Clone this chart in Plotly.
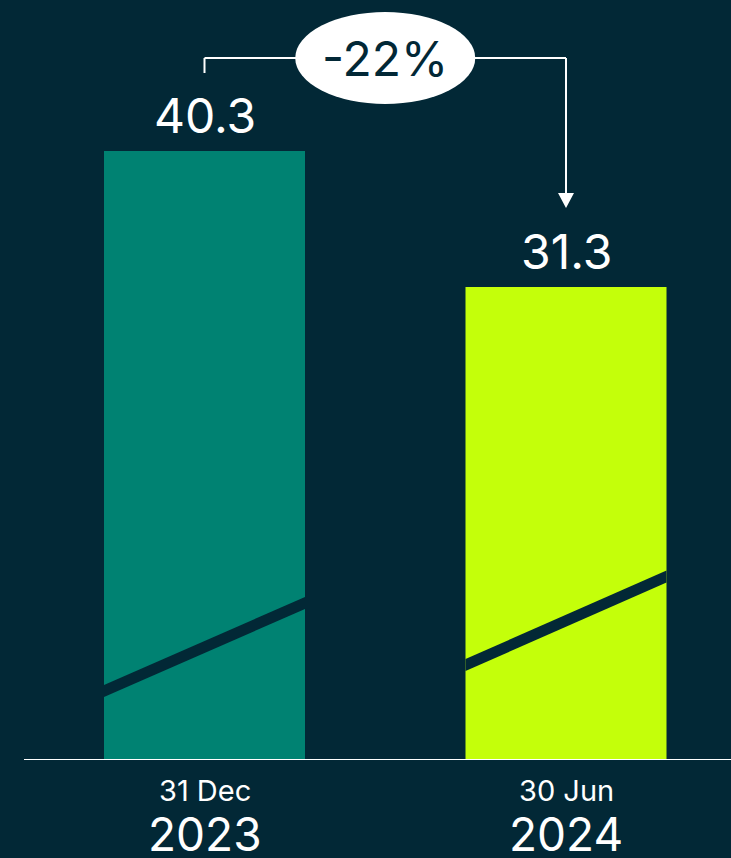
import plotly.graph_objects as go

categories = ["31 Dec 2023", "30 Jun 2024"]
label_top = ["31 Dec", "30 Jun"]
label_year = ["2023", "2024"]
values = [40.3, 31.3]
bar_colors = ["#008272", "#C4FF0A"]
# decorative break stripes: (left y, right y) in data units
stripe_left = [4.57, 6.29]
stripe_right = [10.39, 12.14]

BG = "#022836"
FONT = "Inter"
W, H = 731, 858
px_per_unit = (760 - 151) / values[0]
ymax = 760 / px_per_unit
x_unit = 361.5
x0_px = 204.5
bar_w = 201 / x_unit
xs = [0, 1]

fig = go.Figure()
fig.add_trace(go.Bar(
    x=xs, y=values, width=bar_w, marker=dict(color=bar_colors, line=dict(width=0)),
    hoverinfo="skip",
))

shapes = []
half = 6 / px_per_unit
for i, x in enumerate(xs):
    a, b = x - bar_w / 2, x + bar_w / 2
    yl, yr = stripe_left[i], stripe_right[i]
    shapes.append(dict(type="path", xref="x", yref="y",
                       path=f"M {a},{yl-half} L {b},{yr-half} L {b},{yr+half} L {a},{yl+half} Z",
                       fillcolor=BG, line=dict(width=0)))

# baseline
shapes.append(dict(type="line", xref="paper", yref="y", x0=24 / W, x1=1, y0=0, y1=0,
                   line=dict(color="white", width=2)))

# bracket
y_top = (760 - 58) / px_per_unit
y_left_end = (760 - 73) / px_per_unit
y_arrow_base = (760 - 193) / px_per_unit
y_arrow_tip = (760 - 208) / px_per_unit
lw = dict(color="white", width=2)
shapes.append(dict(type="line", xref="x", yref="y", x0=xs[0], x1=xs[0], y0=y_left_end, y1=y_top, line=lw))
shapes.append(dict(type="line", xref="x", yref="y", x0=xs[0], x1=xs[1], y0=y_top, y1=y_top, line=lw))
shapes.append(dict(type="line", xref="x", yref="y", x0=xs[1], x1=xs[1], y0=y_top, y1=y_arrow_base, line=lw))
hw = 8 / x_unit
shapes.append(dict(type="path", xref="x", yref="y",
                   path=f"M {xs[1]-hw},{y_arrow_base} L {xs[1]+hw},{y_arrow_base} L {xs[1]},{y_arrow_tip} Z",
                   fillcolor="white", line=dict(width=0)))
# ellipse
cx = (xs[0] + xs[1]) / 2
rx = 90 / x_unit
ry = 46 / px_per_unit
shapes.append(dict(type="circle", xref="x", yref="y", x0=cx - rx, x1=cx + rx,
                   y0=y_top - ry, y1=y_top + ry, fillcolor="white", line=dict(width=0)))

pct = round((values[1] / values[0] - 1) * 100)
annotations = [dict(x=cx, y=y_top, xref="x", yref="y", text=f"{pct}%", showarrow=False,
                    font=dict(family=FONT, size=48, color=BG), yshift=0)]
for i, x in enumerate(xs):
    annotations.append(dict(x=x, y=values[i], xref="x", yref="y", text=f"{values[i]}",
                            showarrow=False, yanchor="bottom", yshift=4,
                            font=dict(family=FONT, size=48, color="white")))
    annotations.append(dict(x=x, y=0, xref="x", yref="y", text=label_top[i], showarrow=False,
                            yanchor="middle", yshift=-30,
                            font=dict(family=FONT, size=29, color="white")))
    annotations.append(dict(x=x, y=0, xref="x", yref="y", text=label_year[i], showarrow=False,
                            yanchor="middle", yshift=-74,
                            font=dict(family=FONT, size=46, color="white")))

fig.update_layout(
    width=W, height=H, paper_bgcolor=BG, plot_bgcolor=BG,
    margin=dict(l=0, r=0, t=0, b=H - 760), showlegend=False,
    xaxis=dict(range=[-x0_px / x_unit, (W - x0_px) / x_unit], visible=False, fixedrange=True),
    yaxis=dict(range=[0, ymax], visible=False, fixedrange=True),
    shapes=shapes, annotations=annotations,
)
fig.write_html("out.html", config={"displayModeBar": False},
               post_script="document.body.style.margin='0';document.body.style.overflow='hidden';")
